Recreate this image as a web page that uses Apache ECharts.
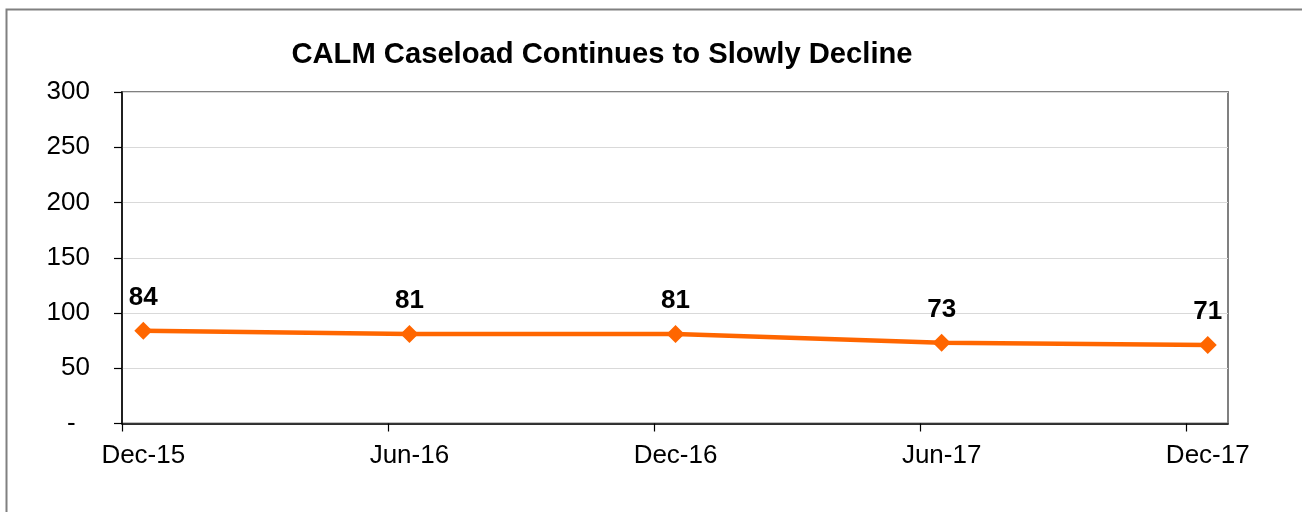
<!DOCTYPE html>
<html>
<head>
<meta charset="utf-8">
<script src="https://cdn.jsdelivr.net/npm/echarts@6/dist/echarts.min.js"></script>
<style>
html,body{margin:0;padding:0;background:#fff;}
#chart{width:1302px;height:512px;}
</style>
</head>
<body>
<div id="chart"></div>
<script>
const titleText = 'CALM Caseload Continues to Slowly Decline';
const categories = ['Dec-15', 'Jun-16', 'Dec-16', 'Jun-17', 'Dec-17'];
const caseload = [84, 81, 81, 73, 71];
const yTicks = [0, 50, 100, 150, 200, 250, 300];

// axis padding (in category units) so points sit inside the plot like the original
const padLeft = 0.08, padRight = 0.076;
const xMin = -padLeft, xMax = categories.length - 1 + padRight;

const font = 'Liberation Sans, Arial, sans-serif';
const chart = echarts.init(document.getElementById('chart'));
chart.setOption({
  animation: false,
  backgroundColor: '#fff',
  title: {
    text: titleText,
    left: 597, top: 35, textAlign: 'center',
    textStyle: {fontFamily: font, fontSize: 29.2, fontWeight: 'bold', color: '#000'}
  },
  graphic: [{
    type: 'rect', left: 4, top: 7, silent: true,
    shape: {width: 1320, height: 530},
    style: {fill: 'none', stroke: '#808080', lineWidth: 2}
  }],
  grid: {
    left: 122, right: 74, top: 92, bottom: 88.5,
    show: true, borderColor: '#808080', borderWidth: 2, backgroundColor: '#fff'
  },
  xAxis: {
    type: 'value', min: xMin, max: xMax, interval: 1,
    axisLine: {show: true, onZero: false, lineStyle: {color: '#000', width: 1.5}},
    axisTick: {show: true, length: 8, lineStyle: {color: '#000', width: 1.2},
      customValues: categories.map((c, i) => i + xMin)},
    axisLabel: {
      customValues: categories.map((c, i) => i),
      formatter: v => categories[Math.round(v)],
      fontFamily: font, fontSize: 26, color: '#000', margin: 19
    },
    splitLine: {show: false}
  },
  yAxis: {
    type: 'value', min: yTicks[0], max: yTicks[yTicks.length - 1], interval: 50,
    axisLine: {show: true, onZero: false, lineStyle: {color: '#000', width: 1.5}},
    axisTick: {show: true, length: 8, lineStyle: {color: '#000', width: 1.2}},
    axisLabel: {
      formatter: v => v === 0 ? '-  ' : String(v),
      fontFamily: font, fontSize: 26, color: '#000', margin: 32
    },
    splitLine: {show: true, lineStyle: {color: '#d9d9d9', width: 1.2}}
  },
  series: [{
    type: 'line',
    data: caseload.map((v, i) => [i, v]),
    symbol: 'diamond', symbolSize: 18,
    lineStyle: {color: '#FF6600', width: 4.5},
    itemStyle: {color: '#FF6600'},
    label: {
      show: true, position: 'top', distance: 11,
      fontFamily: font, fontSize: 26, fontWeight: 'bold', color: '#000'
    }
  }]
});
</script>
</body>
</html>
